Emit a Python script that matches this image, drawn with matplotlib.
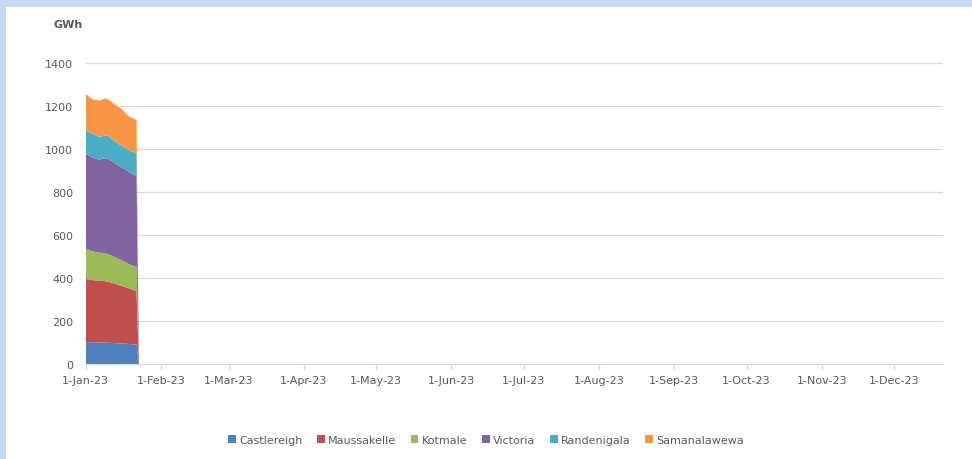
import matplotlib.pyplot as plt
import matplotlib.dates as mdates
import numpy as np
import pandas as pd
from matplotlib.patches import Rectangle

# daily generation (GWh), 1-Jan-23 .. 22-Jan-23, zero afterwards
castlereigh = [102, 102, 101, 101, 101, 100, 100, 100, 99, 99, 98,
               98, 97, 97, 96, 96, 95, 94, 93, 92, 91, 90]
maussakelle = [293, 292, 290, 289, 288, 288, 287, 287, 286, 284, 282,
               279, 276, 273, 270, 267, 264, 261, 258, 255, 253, 251]
kotmale = [140, 138, 136, 134, 132, 131, 131, 130, 130, 129, 128,
           126, 124, 122, 121, 119, 117, 115, 113, 112, 111, 112]
victoria = [442, 440, 438, 436, 434, 433, 433, 438, 442, 443, 441,
            440, 438, 435, 433, 432, 431, 430, 428, 426, 424, 423]
randenigala = [108, 109, 109, 109, 108, 107, 106, 106, 107, 107, 104,
               101, 101, 101, 101, 101, 101, 101, 101, 103, 106, 109]
samanalawewa = [171, 166, 162, 163, 165, 167, 169, 170, 171, 171, 172,
                172, 172, 171, 171, 170, 165, 160, 157, 157, 154, 150]

labels = ['Castlereigh', 'Maussakelle', 'Kotmale', 'Victoria', 'Randenigala', 'Samanalawewa']
colors = ['#4F81BD', '#C0504D', '#9BBB59', '#8064A2', '#4BACC6', '#F79646']

dates = pd.date_range('2023-01-01', '2023-12-21', freq='D')
n = len(dates)

def pad(vals):
    return np.concatenate([vals, np.zeros(n - len(vals))])

series = [pad(s) for s in [castlereigh, maussakelle, kotmale, victoria, randenigala, samanalawewa]]

fig = plt.figure(figsize=(9.72, 4.6), dpi=100)
fig.patches.append(Rectangle((0, 0), 5.5 / 972, 1, transform=fig.transFigure,
                             facecolor='#C6D9F0', edgecolor='none', zorder=0))
fig.patches.append(Rectangle((0, 1 - 8 / 460), 1, 8 / 460, transform=fig.transFigure,
                             facecolor='#C6D9F0', edgecolor='none', zorder=0))

ax = fig.add_axes([85.7 / 972, 1 - 365 / 460, (942.7 - 85.7) / 972, (365 - 64) / 460])
ax.stackplot(dates, *series, labels=labels, colors=colors, linewidth=0)

ax.set_xlim(dates[0], dates[-1])
ax.set_ylim(0, 1400)
ax.set_yticks(range(0, 1401, 200))
ax.xaxis.set_major_locator(mdates.MonthLocator())
ax.xaxis.set_major_formatter(mdates.DateFormatter('%-d-%b-%y'))

ax.grid(axis='y', color='#D9D9D9', linewidth=0.9)
ax.set_axisbelow(True)
for s in ['top', 'right', 'left']:
    ax.spines[s].set_visible(False)
ax.spines['bottom'].set_color('#D9D9D9')
ax.tick_params(axis='y', length=0, labelsize=8, labelcolor='#595959', pad=9)
ax.tick_params(axis='x', length=4, color='#D9D9D9', labelsize=8, labelcolor='#595959', pad=4)

fig.text(53 / 972, 1 - 25 / 460, 'GWh', fontsize=8, fontweight='bold', color='#595959',
         va='center', ha='left')

fig.legend(loc='center', bbox_to_anchor=(0.5, 1 - 441 / 460), ncol=6, frameon=False,
           fontsize=8, labelcolor='#595959', handlelength=0.7, handleheight=0.7,
           handletextpad=0.3, columnspacing=1.3)

plt.savefig('out.png', dpi=100)
